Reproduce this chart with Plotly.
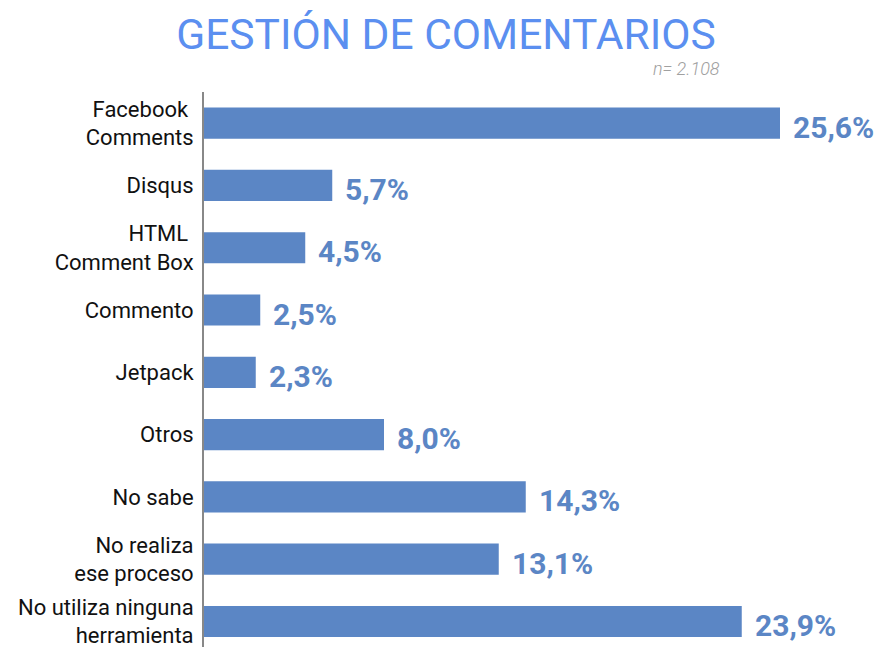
import plotly.graph_objects as go

categories = [
    "Facebook <br>Comments",
    "Disqus",
    "HTML <br>Comment Box",
    "Commento",
    "Jetpack",
    "Otros",
    "No sabe",
    "No realiza<br>ese proceso",
    "No utiliza ninguna<br>herramienta",
]
values = [25.6, 5.7, 4.5, 2.5, 2.3, 8.0, 14.3, 13.1, 23.9]
value_labels = ["25,6%", "5,7%", "4,5%", "2,5%", "2,3%", "8,0%", "14,3%", "13,1%", "23,9%"]

bar_color = "#5b86c5"

# plot area in pixels
left, top, right = 204, 92, 4
plot_w = 878 - left - right
plot_h = 647 - top

fig = go.Figure()

fig.add_trace(go.Bar(
    x=values,
    y=categories,
    orientation="h",
    marker=dict(color=bar_color, line=dict(width=0)),
    width=0.5,
    hoverinfo="skip",
))

# value labels right of each bar
for v, c, t in zip(values, categories, value_labels):
    fig.add_annotation(
        x=v, y=c, text=t,
        xanchor="left", yanchor="middle",
        xshift=11, yshift=-4,
        showarrow=False,
        font=dict(family="Roboto", size=30, color=bar_color, weight="bold"),
    )

fig.add_annotation(
    x=(722 - left) / plot_w, y=(647 - 68) / plot_h,
    xref="paper", yref="paper",
    xanchor="right", yanchor="middle",
    text="<i>n= 2.108</i>", showarrow=False,
    font=dict(family="Roboto", size=18, color="#a0a0a0", weight=300),
)

fig.update_layout(
    width=878,
    height=647,
    margin=dict(l=left, r=right, t=top, b=0),
    plot_bgcolor="white",
    paper_bgcolor="white",
    showlegend=False,
    title=dict(
        text="GESTIÓN DE COMENTARIOS",
        x=446 / 878, xanchor="center",
        y=1 - 34 / 647, yanchor="middle",
        font=dict(family="Roboto", size=42.5, color="#5b8ff0"),
    ),
    xaxis=dict(
        range=[0, plot_w / 22.5],
        showgrid=False, zeroline=False, showticklabels=False,
        showline=False, fixedrange=True, automargin=False,
    ),
    yaxis=dict(
        type="category",
        range=[8.41, -0.5],
        showgrid=False, zeroline=False, automargin=False,
        showline=True, linecolor="#888888", linewidth=2,
        ticks="", ticklabelstandoff=4,
        tickfont=dict(family="Roboto", size=22, color="#111111"),
    ),
)

# drop the browser's default body margin so the figure sits at the top-left corner
fig.write_html(
    "out.html",
    config={"displayModeBar": False},
    post_script="document.body.style.margin = '0';",
)
